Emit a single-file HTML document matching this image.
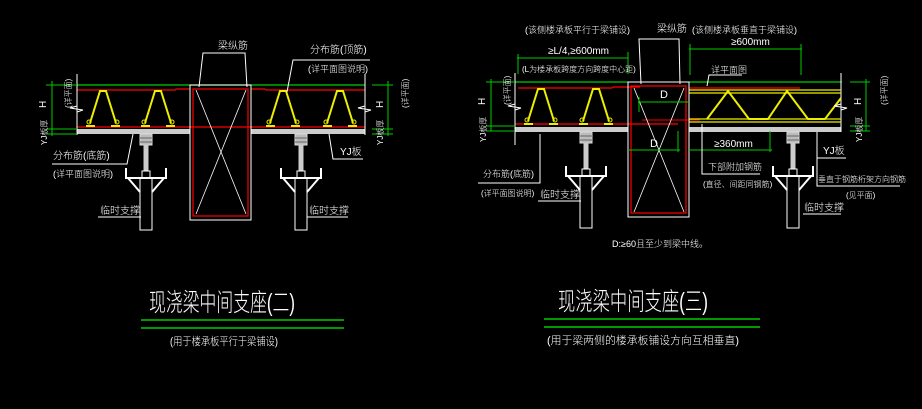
<!DOCTYPE html>
<html><head><meta charset="utf-8"><style>
html,body{margin:0;padding:0;background:#000;}
svg{display:block;}
text{font-family:"Liberation Sans","Noto Sans CJK SC",sans-serif;fill:#fff;font-weight:300;}
</style></head><body>
<svg width="922" height="409" viewBox="0 0 922 409" xmlns="http://www.w3.org/2000/svg">
<defs>
<g id="sup" stroke="#fff" stroke-width="1" fill="none">
  <rect x="-6" y="0" width="12" height="11" fill="#bbb" stroke="#ddd"/>
  <line x1="-6" y1="4" x2="6" y2="4" stroke="#666"/><line x1="-6" y1="8" x2="6" y2="8" stroke="#666"/>
  <rect x="-2" y="11" width="4" height="25" fill="#ccc" stroke="#ccc"/>
  <polyline points="-20,34 -20,44 20,44 20,34" stroke-width="2"/>
  <rect x="-4" y="37" width="8" height="7"/>
  <rect x="-6" y="44" width="12" height="52"/>
  <line x1="-18" y1="44" x2="-6" y2="58" stroke-width="2"/>
  <line x1="18" y1="44" x2="6" y2="58" stroke-width="2"/>
</g>
<g id="truss" fill="none">
  <polyline points="-13,33 -3,1 3,1 13,33" stroke="#ee0" stroke-width="2"/>
  <circle cx="-14" cy="32" r="2" stroke="#ee0"/><circle cx="14" cy="32" r="2" stroke="#ee0"/>
  <rect x="-17" y="35" width="9" height="2" fill="#ee0"/><rect x="8" y="35" width="9" height="2" fill="#ee0"/>
</g>
</defs>

<line x1="77" y1="85" x2="365" y2="85" stroke="#0c0" stroke-width="1.2"/>
<polyline points="77,90 175,90 176,89 190,89" stroke="#f00" fill="none" stroke-width="1.2"/>
<polyline points="251,89 265,89 266,90 365,90" stroke="#f00" fill="none" stroke-width="1.2"/>
<line x1="77" y1="127" x2="365" y2="127" stroke="#f00" stroke-width="1.2"/>
<rect x="77" y="129" width="113" height="5" fill="#ccc"/>
<rect x="251" y="129" width="114" height="5" fill="#ccc"/>
<line x1="77" y1="74" x2="77" y2="135" stroke="#fff"/>
<line x1="365" y1="74" x2="365" y2="135" stroke="#fff"/>
<use href="#truss" x="103" y="90"/><use href="#truss" x="158" y="90"/>
<use href="#truss" x="283" y="90"/><use href="#truss" x="340" y="90"/>
<rect x="190" y="85" width="61" height="135" fill="none" stroke="#fff"/>
<rect x="193" y="89" width="55" height="127" fill="none" stroke="#f00" stroke-width="1.2"/>
<line x1="196" y1="90" x2="246" y2="214" stroke="#fff" stroke-width="0.8"/>
<line x1="246" y1="90" x2="196" y2="214" stroke="#fff" stroke-width="0.8"/>
<use href="#sup" x="146" y="134"/><use href="#sup" x="301" y="134"/>
<line x1="52" y1="81" x2="52" y2="136" stroke="#0c0"/>
<line x1="46" y1="85" x2="77" y2="85" stroke="#0c0"/>
<line x1="46" y1="129" x2="77" y2="129" stroke="#0c0"/>
<line x1="46" y1="134" x2="77" y2="134" stroke="#0c0"/>
<line x1="388" y1="81" x2="388" y2="136" stroke="#0c0"/>
<line x1="372" y1="85" x2="393" y2="85" stroke="#0c0"/>
<line x1="372" y1="129" x2="393" y2="129" stroke="#0c0"/>
<line x1="372" y1="134" x2="393" y2="134" stroke="#0c0"/>
<polyline points="77,106 70,108 83,110 77,112" stroke="#fff" fill="none"/>
<polyline points="365,106 358,108 371,110 365,112" stroke="#fff" fill="none"/>
<text x="42" y="112" font-size="10" transform="rotate(-90 42 108)">H</text>
<text x="63" y="116" font-size="8" transform="rotate(-90 63 108)">(详平面)</text>
<text x="44" y="148" font-size="8" transform="rotate(-90 44 145)">YJ板厚</text>
<text x="379" y="112" font-size="10" transform="rotate(-90 379 108)">H</text>
<text x="400" y="116" font-size="8" transform="rotate(-90 400 108)">(详平面)</text>
<text x="380" y="148" font-size="8" transform="rotate(-90 380 145)">YJ板厚</text>
<polyline points="199,87 203,53 245,53 247,87" stroke="#fff" fill="none"/>
<text x="218" y="49" font-size="10">梁纵筋</text>
<polyline points="287,92 293,60 370,60" stroke="#fff" fill="none"/>
<text x="310" y="53" font-size="10">分布筋(顶筋)</text>
<text x="308" y="72" font-size="9">(详平面图说明)</text>
<polyline points="133,134 127,164 52,164" stroke="#fff" fill="none"/>
<text x="53" y="159" font-size="10">分布筋(底筋)</text>
<text x="53" y="177" font-size="9">(详平面图说明)</text>
<polyline points="329,134 333,159 363,159" stroke="#fff" fill="none"/>
<text x="340" y="155" font-size="10">YJ板</text>
<line x1="98" y1="217" x2="141" y2="217" stroke="#fff"/>
<text x="100" y="214" font-size="10">临时支撑</text>
<line x1="307" y1="217" x2="348" y2="217" stroke="#fff"/>
<text x="309" y="214" font-size="10">临时支撑</text>
<text x="149" y="311" font-size="25" textLength="146" lengthAdjust="spacingAndGlyphs">现浇梁中间支座(二)</text>
<line x1="141" y1="320" x2="344" y2="320" stroke="#0c0" stroke-width="1.5"/>
<line x1="141" y1="328" x2="344" y2="328" stroke="#0c0" stroke-width="1.5"/>
<text x="170" y="345" font-size="11" textLength="108" lengthAdjust="spacingAndGlyphs">(用于楼承板平行于梁铺设)</text>

<line x1="515" y1="82" x2="628" y2="82" stroke="#0c0" stroke-width="1.2"/>
<line x1="689" y1="82" x2="842" y2="82" stroke="#0c0" stroke-width="1.2"/>
<polyline points="518,88 612,88 613,87 640,87" stroke="#f00" fill="none" stroke-width="1.2"/>
<line x1="689" y1="88" x2="800" y2="88" stroke="#f00" stroke-width="1.2"/>
<line x1="515" y1="124" x2="678" y2="124" stroke="#f00" stroke-width="1.2"/>
<line x1="642" y1="120" x2="700" y2="120" stroke="#f00" stroke-width="1"/>
<rect x="515" y="127" width="113" height="5" fill="#ccc"/>
<rect x="689" y="127" width="152" height="5" fill="#ccc"/>
<line x1="515" y1="73" x2="515" y2="145" stroke="#fff"/>
<line x1="841" y1="73" x2="841" y2="132" stroke="#fff"/>
<use href="#truss" x="541" y="88"/><use href="#truss" x="596" y="88"/>
<line x1="689" y1="90" x2="841" y2="90" stroke="#ee0" stroke-width="1.2"/>
<line x1="689" y1="93" x2="841" y2="93" stroke="#ee0" stroke-width="1.2"/>
<line x1="689" y1="119" x2="841" y2="119" stroke="#ee0" stroke-width="1.2"/>
<line x1="689" y1="122" x2="841" y2="122" stroke="#ee0" stroke-width="1.2"/>
<polyline points="707,119 728,91 749,119 768,119 787,91 808,119 825,119 841,98" stroke="#ee0" stroke-width="2" fill="none"/>
<rect x="628" y="82" width="61" height="135" fill="none" stroke="#fff"/>
<rect x="631" y="86" width="55" height="127" fill="none" stroke="#f00" stroke-width="1.2"/>
<line x1="634" y1="88" x2="684" y2="212" stroke="#fff" stroke-width="0.8"/>
<line x1="684" y1="88" x2="634" y2="212" stroke="#fff" stroke-width="0.8"/>
<use href="#sup" x="586" y="132"/><use href="#sup" x="793" y="132"/>
<line x1="491" y1="79" x2="491" y2="131" stroke="#0c0"/>
<line x1="486" y1="82" x2="515" y2="82" stroke="#0c0"/>
<line x1="486" y1="126" x2="515" y2="126" stroke="#0c0"/>
<line x1="486" y1="131" x2="515" y2="131" stroke="#0c0"/>
<line x1="866" y1="79" x2="866" y2="131" stroke="#0c0"/>
<line x1="850" y1="82" x2="870" y2="82" stroke="#0c0"/>
<line x1="850" y1="126" x2="870" y2="126" stroke="#0c0"/>
<line x1="850" y1="131" x2="870" y2="131" stroke="#0c0"/>
<polyline points="515,104 508,106 521,108 515,110" stroke="#fff" fill="none"/>
<polyline points="841,104 834,106 847,108 841,110" stroke="#fff" fill="none"/>
<text x="481" y="109" font-size="10" transform="rotate(-90 481 105)">H</text>
<text x="502" y="113" font-size="8" transform="rotate(-90 502 105)">(详平面)</text>
<text x="482" y="146" font-size="8" transform="rotate(-90 482 142)">YJ板厚</text>
<text x="857" y="109" font-size="10" transform="rotate(-90 857 105)">H</text>
<text x="879" y="113" font-size="8" transform="rotate(-90 879 105)">(详平面)</text>
<text x="858" y="146" font-size="8" transform="rotate(-90 858 142)">YJ板厚</text>
<line x1="517" y1="58" x2="628" y2="58" stroke="#0c0"/>
<line x1="518" y1="54" x2="518" y2="74" stroke="#0c0"/>
<line x1="628" y1="52" x2="628" y2="74" stroke="#0c0"/>
<text x="548" y="54" font-size="10">≥L/4,≥600mm</text>
<text x="522" y="72" font-size="8">(L为楼承板跨度方向跨度中心距)</text>
<line x1="689" y1="49" x2="802" y2="49" stroke="#0c0"/>
<line x1="690" y1="44" x2="690" y2="75" stroke="#0c0"/>
<line x1="801" y1="44" x2="801" y2="75" stroke="#0c0"/>
<text x="731" y="45" font-size="10">≥600mm</text>
<text x="525" y="33" font-size="9">(该侧楼承板平行于梁铺设)</text>
<text x="692" y="33" font-size="9">(该侧楼承板垂直于梁铺设)</text>
<polyline points="641,84 639,39 679,39 680,84" stroke="#fff" fill="none"/>
<text x="657" y="32" font-size="10">梁纵筋</text>
<polyline points="707,86 709,75 742,75" stroke="#fff" fill="none"/>
<text x="711" y="73" font-size="9">详平面图</text>
<line x1="638" y1="102" x2="690" y2="102" stroke="#0c0"/>
<line x1="639" y1="97" x2="639" y2="112" stroke="#0c0"/>
<text x="660" y="98" font-size="11">D</text>
<line x1="628" y1="150" x2="680" y2="150" stroke="#0c0"/>
<line x1="678" y1="131" x2="678" y2="152" stroke="#0c0"/>
<text x="650" y="147" font-size="11">D</text>
<line x1="689" y1="150" x2="772" y2="150" stroke="#0c0"/>
<line x1="770" y1="131" x2="770" y2="152" stroke="#0c0"/>
<text x="714" y="147" font-size="10">≥360mm</text>
<polyline points="702,124 702,174 760,174" stroke="#fff" fill="none"/>
<text x="708" y="170" font-size="9">下部附加钢筋</text>
<text x="703" y="187" font-size="8">(直径、间距同钢筋)</text>
<polyline points="540,134 540,183 478,183" stroke="#fff" fill="none"/>
<text x="483" y="177" font-size="9">分布筋(底筋)</text>
<text x="481" y="196" font-size="8">(详平面图说明)</text>
<line x1="538" y1="201" x2="581" y2="201" stroke="#fff"/>
<text x="540" y="198" font-size="10">临时支撑</text>
<line x1="803" y1="214" x2="841" y2="214" stroke="#fff"/>
<text x="804" y="211" font-size="10">临时支撑</text>
<polyline points="817,135 817,158 846,158" stroke="#fff" fill="none"/>
<text x="823" y="154" font-size="10">YJ板</text>
<polyline points="817,132 817,186 900,186" stroke="#fff" fill="none"/>
<text x="818" y="182" font-size="8">垂直于钢筋桁架方向钢筋</text>
<text x="846" y="198" font-size="8">(见平面)</text>
<text x="612" y="247" font-size="9">D:≥60且至少到梁中线。</text>
<text x="558" y="310" font-size="25" textLength="150" lengthAdjust="spacingAndGlyphs">现浇梁中间支座(三)</text>
<line x1="544" y1="319" x2="760" y2="319" stroke="#0c0" stroke-width="1.5"/>
<line x1="544" y1="327" x2="760" y2="327" stroke="#0c0" stroke-width="1.5"/>
<text x="547" y="344" font-size="11" textLength="192" lengthAdjust="spacingAndGlyphs">(用于梁两侧的楼承板铺设方向互相垂直)</text>
</svg>
</body></html>
